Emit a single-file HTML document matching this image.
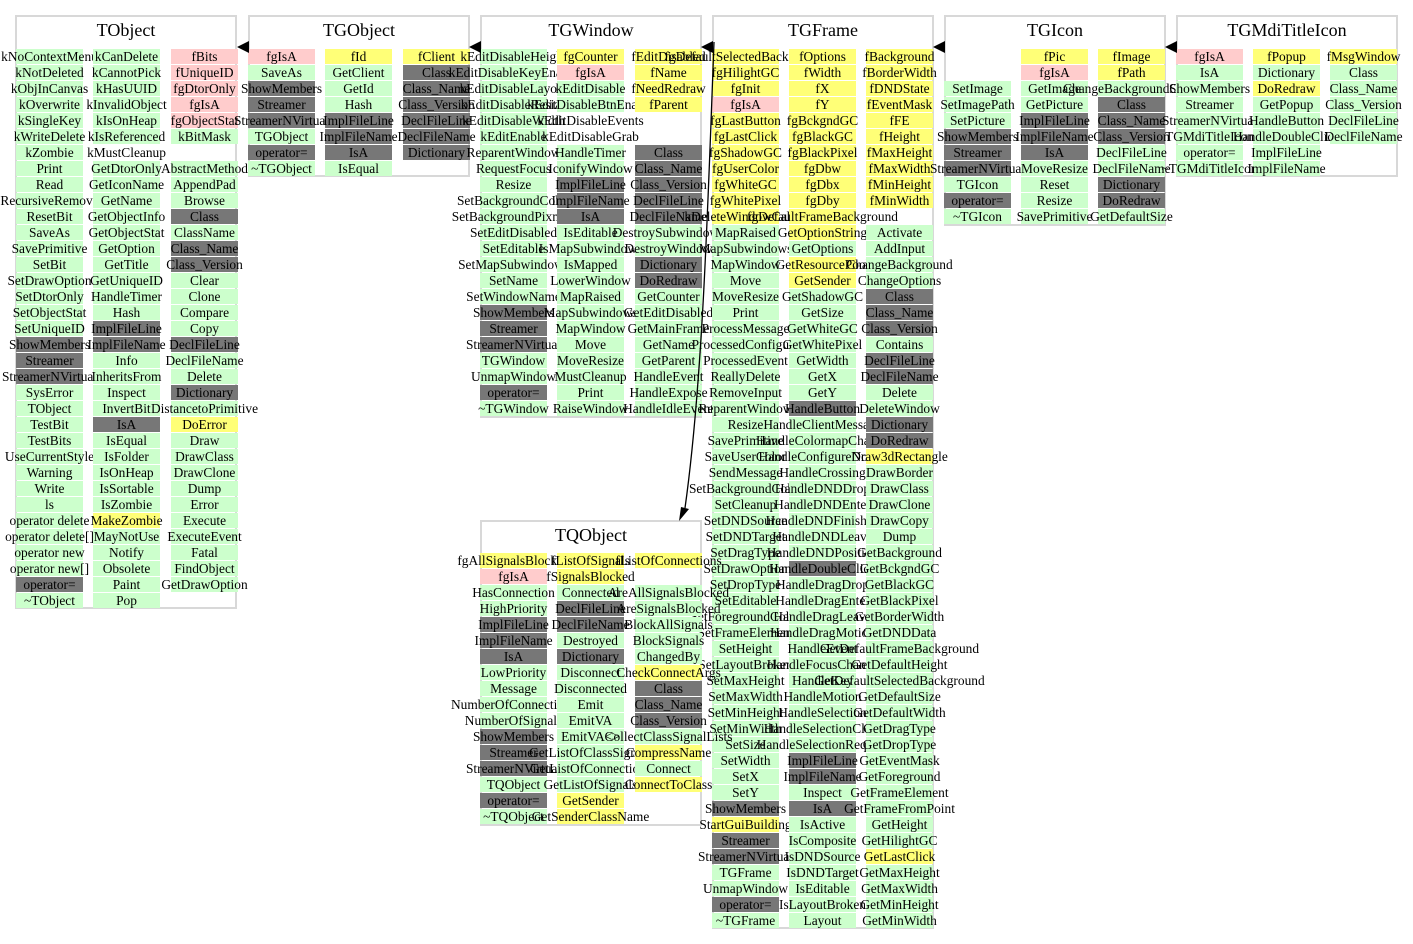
<!DOCTYPE html>
<html><head><meta charset="utf-8"><style>
html,body{margin:0;padding:0;background:#fff;}
body{width:1413px;height:944px;position:relative;overflow:hidden;font-family:"Liberation Serif",serif;color:#000;}
.box{position:absolute;border:2px solid #d8d8d8;box-sizing:border-box;width:222px;}
.t{position:absolute;width:222px;text-align:center;font-size:18px;line-height:20px;}
.col{position:absolute;width:67px;}
.col div{height:15px;margin-bottom:1px;display:flex;justify-content:center;align-items:center;font-size:13.4px;line-height:15px;white-space:nowrap;}
.g{background:#ccffcc}.p{background:#ffcccc}.y{background:#ffff77}.d{background:#777777}.e{background:transparent}
svg{position:absolute;left:0;top:0;}
</style></head><body>

<div class="box" style="left:15px;top:15px;height:594px"></div>
<div class="t" style="left:15px;top:20px">TObject</div>
<div class="box" style="left:248px;top:15px;height:162px"></div>
<div class="t" style="left:248px;top:20px">TGObject</div>
<div class="box" style="left:480px;top:15px;height:403px"></div>
<div class="t" style="left:480px;top:20px">TGWindow</div>
<div class="box" style="left:712px;top:15px;height:914px"></div>
<div class="t" style="left:712px;top:20px">TGFrame</div>
<div class="box" style="left:944px;top:15px;height:211px"></div>
<div class="t" style="left:944px;top:20px">TGIcon</div>
<div class="box" style="left:1176px;top:15px;height:162px"></div>
<div class="t" style="left:1176px;top:20px">TGMdiTitleIcon</div>
<div class="box" style="left:480px;top:520px;height:306px"></div>
<div class="t" style="left:480px;top:525px">TQObject</div>

<!-- TObject -->
<div class="col" style="left:16px;top:49px">
<div class="g">kNoContextMenu</div><div class="g">kNotDeleted</div><div class="g">kObjInCanvas</div><div class="g">kOverwrite</div><div class="g">kSingleKey</div><div class="g">kWriteDelete</div><div class="g">kZombie</div><div class="g">Print</div><div class="g">Read</div><div class="g">RecursiveRemove</div><div class="g">ResetBit</div><div class="g">SaveAs</div><div class="g">SavePrimitive</div><div class="g">SetBit</div><div class="g">SetDrawOption</div><div class="g">SetDtorOnly</div><div class="g">SetObjectStat</div><div class="g">SetUniqueID</div><div class="d">ShowMembers</div><div class="d">Streamer</div><div class="d">StreamerNVirtual</div><div class="g">SysError</div><div class="g">TObject</div><div class="g">TestBit</div><div class="g">TestBits</div><div class="g">UseCurrentStyle</div><div class="g">Warning</div><div class="g">Write</div><div class="g">ls</div><div class="g">operator delete</div><div class="g">operator delete[]</div><div class="g">operator new</div><div class="g">operator new[]</div><div class="d">operator=</div><div class="g">~TObject</div>
</div>
<div class="col" style="left:93px;top:49px">
<div class="g">kCanDelete</div><div class="g">kCannotPick</div><div class="g">kHasUUID</div><div class="g">kInvalidObject</div><div class="g">kIsOnHeap</div><div class="g">kIsReferenced</div><div class="e">kMustCleanup</div><div class="g">GetDtorOnly</div><div class="g">GetIconName</div><div class="g">GetName</div><div class="g">GetObjectInfo</div><div class="g">GetObjectStat</div><div class="g">GetOption</div><div class="g">GetTitle</div><div class="g">GetUniqueID</div><div class="g">HandleTimer</div><div class="g">Hash</div><div class="d">ImplFileLine</div><div class="d">ImplFileName</div><div class="g">Info</div><div class="g">InheritsFrom</div><div class="g">Inspect</div><div class="g">InvertBit</div><div class="d">IsA</div><div class="g">IsEqual</div><div class="g">IsFolder</div><div class="g">IsOnHeap</div><div class="g">IsSortable</div><div class="g">IsZombie</div><div class="y">MakeZombie</div><div class="g">MayNotUse</div><div class="g">Notify</div><div class="g">Obsolete</div><div class="g">Paint</div><div class="g">Pop</div>
</div>
<div class="col" style="left:171px;top:49px">
<div class="p">fBits</div><div class="p">fUniqueID</div><div class="p">fgDtorOnly</div><div class="p">fgIsA</div><div class="p">fgObjectStat</div><div class="g">kBitMask</div><div class="e"></div><div class="g">AbstractMethod</div><div class="g">AppendPad</div><div class="g">Browse</div><div class="d">Class</div><div class="g">ClassName</div><div class="d">Class_Name</div><div class="d">Class_Version</div><div class="g">Clear</div><div class="g">Clone</div><div class="g">Compare</div><div class="g">Copy</div><div class="d">DeclFileLine</div><div class="g">DeclFileName</div><div class="g">Delete</div><div class="d">Dictionary</div><div class="g">DistancetoPrimitive</div><div class="y">DoError</div><div class="g">Draw</div><div class="g">DrawClass</div><div class="g">DrawClone</div><div class="g">Dump</div><div class="g">Error</div><div class="g">Execute</div><div class="g">ExecuteEvent</div><div class="g">Fatal</div><div class="g">FindObject</div><div class="g">GetDrawOption</div>
</div>

<!-- TGObject -->
<div class="col" style="left:248px;top:49px">
<div class="p">fgIsA</div><div class="g">SaveAs</div><div class="d">ShowMembers</div><div class="d">Streamer</div><div class="d">StreamerNVirtual</div><div class="g">TGObject</div><div class="d">operator=</div><div class="g">~TGObject</div>
</div>
<div class="col" style="left:325px;top:49px">
<div class="y">fId</div><div class="g">GetClient</div><div class="g">GetId</div><div class="g">Hash</div><div class="d">ImplFileLine</div><div class="d">ImplFileName</div><div class="d">IsA</div><div class="g">IsEqual</div>
</div>
<div class="col" style="left:403px;top:49px">
<div class="y">fClient</div><div class="d">Class</div><div class="d">Class_Name</div><div class="d">Class_Version</div><div class="d">DeclFileLine</div><div class="d">DeclFileName</div><div class="d">Dictionary</div>
</div>

<!-- TGWindow -->
<div class="col" style="left:480px;top:49px">
<div class="g">kEditDisableHeight</div><div class="g">kEditDisableKeyEnable</div><div class="g">kEditDisableLayout</div><div class="g">kEditDisableResize</div><div class="g">kEditDisableWidth</div><div class="g">kEditEnable</div><div class="g">ReparentWindow</div><div class="g">RequestFocus</div><div class="g">Resize</div><div class="g">SetBackgroundColor</div><div class="g">SetBackgroundPixmap</div><div class="g">SetEditDisabled</div><div class="g">SetEditable</div><div class="g">SetMapSubwindows</div><div class="g">SetName</div><div class="g">SetWindowName</div><div class="d">ShowMembers</div><div class="d">Streamer</div><div class="d">StreamerNVirtual</div><div class="g">TGWindow</div><div class="g">UnmapWindow</div><div class="d">operator=</div><div class="g">~TGWindow</div>
</div>
<div class="col" style="left:557px;top:49px">
<div class="y">fgCounter</div><div class="p">fgIsA</div><div class="g">kEditDisable</div><div class="g">kEditDisableBtnEnable</div><div class="e">kEditDisableEvents</div><div class="e">kEditDisableGrab</div><div class="g">HandleTimer</div><div class="g">IconifyWindow</div><div class="d">ImplFileLine</div><div class="d">ImplFileName</div><div class="d">IsA</div><div class="g">IsEditable</div><div class="g">IsMapSubwindows</div><div class="g">IsMapped</div><div class="g">LowerWindow</div><div class="g">MapRaised</div><div class="g">MapSubwindows</div><div class="g">MapWindow</div><div class="g">Move</div><div class="g">MoveResize</div><div class="g">MustCleanup</div><div class="g">Print</div><div class="g">RaiseWindow</div>
</div>
<div class="col" style="left:635px;top:49px">
<div class="y">fEditDisabled</div><div class="y">fName</div><div class="y">fNeedRedraw</div><div class="y">fParent</div><div class="e"></div><div class="e"></div><div class="d">Class</div><div class="d">Class_Name</div><div class="d">Class_Version</div><div class="d">DeclFileLine</div><div class="d">DeclFileName</div><div class="g">DestroySubwindows</div><div class="g">DestroyWindow</div><div class="d">Dictionary</div><div class="d">DoRedraw</div><div class="g">GetCounter</div><div class="g">GetEditDisabled</div><div class="g">GetMainFrame</div><div class="g">GetName</div><div class="g">GetParent</div><div class="g">HandleEvent</div><div class="g">HandleExpose</div><div class="g">HandleIdleEvent</div>
</div>

<!-- TGFrame -->
<div class="col" style="left:712px;top:49px">
<div class="y">fgDefaultSelectedBackground</div><div class="y">fgHilightGC</div><div class="y">fgInit</div><div class="p">fgIsA</div><div class="y">fgLastButton</div><div class="y">fgLastClick</div><div class="y">fgShadowGC</div><div class="y">fgUserColor</div><div class="y">fgWhiteGC</div><div class="y">fgWhitePixel</div><div class="y">kDeleteWindowCalled</div><div class="g">MapRaised</div><div class="g">MapSubwindows</div><div class="g">MapWindow</div><div class="g">Move</div><div class="g">MoveResize</div><div class="g">Print</div><div class="g">ProcessMessage</div><div class="g">ProcessedConfigure</div><div class="g">ProcessedEvent</div><div class="g">ReallyDelete</div><div class="g">RemoveInput</div><div class="g">ReparentWindow</div><div class="g">Resize</div><div class="g">SavePrimitive</div><div class="g">SaveUserColor</div><div class="g">SendMessage</div><div class="g">SetBackgroundColor</div><div class="g">SetCleanup</div><div class="g">SetDNDSource</div><div class="g">SetDNDTarget</div><div class="g">SetDragType</div><div class="g">SetDrawOption</div><div class="g">SetDropType</div><div class="g">SetEditable</div><div class="g">SetForegroundColor</div><div class="g">SetFrameElement</div><div class="g">SetHeight</div><div class="g">SetLayoutBroken</div><div class="g">SetMaxHeight</div><div class="g">SetMaxWidth</div><div class="g">SetMinHeight</div><div class="g">SetMinWidth</div><div class="g">SetSize</div><div class="g">SetWidth</div><div class="g">SetX</div><div class="g">SetY</div><div class="d">ShowMembers</div><div class="y">StartGuiBuilding</div><div class="d">Streamer</div><div class="d">StreamerNVirtual</div><div class="g">TGFrame</div><div class="g">UnmapWindow</div><div class="d">operator=</div><div class="g">~TGFrame</div>
</div>
<div class="col" style="left:789px;top:49px">
<div class="y">fOptions</div><div class="y">fWidth</div><div class="y">fX</div><div class="y">fY</div><div class="y">fgBckgndGC</div><div class="y">fgBlackGC</div><div class="y">fgBlackPixel</div><div class="y">fgDbw</div><div class="y">fgDbx</div><div class="y">fgDby</div><div class="y">fgDefaultFrameBackground</div><div class="y">GetOptionString</div><div class="g">GetOptions</div><div class="y">GetResourcePool</div><div class="y">GetSender</div><div class="g">GetShadowGC</div><div class="g">GetSize</div><div class="g">GetWhiteGC</div><div class="g">GetWhitePixel</div><div class="g">GetWidth</div><div class="g">GetX</div><div class="g">GetY</div><div class="d">HandleButton</div><div class="g">HandleClientMessage</div><div class="g">HandleColormapChange</div><div class="g">HandleConfigureNotify</div><div class="g">HandleCrossing</div><div class="g">HandleDNDDrop</div><div class="g">HandleDNDEnter</div><div class="g">HandleDNDFinished</div><div class="g">HandleDNDLeave</div><div class="g">HandleDNDPosition</div><div class="d">HandleDoubleClick</div><div class="g">HandleDragDrop</div><div class="g">HandleDragEnter</div><div class="g">HandleDragLeave</div><div class="g">HandleDragMotion</div><div class="g">HandleEvent</div><div class="g">HandleFocusChange</div><div class="g">HandleKey</div><div class="g">HandleMotion</div><div class="g">HandleSelection</div><div class="g">HandleSelectionClear</div><div class="g">HandleSelectionRequest</div><div class="d">ImplFileLine</div><div class="d">ImplFileName</div><div class="g">Inspect</div><div class="d">IsA</div><div class="g">IsActive</div><div class="g">IsComposite</div><div class="g">IsDNDSource</div><div class="g">IsDNDTarget</div><div class="g">IsEditable</div><div class="g">IsLayoutBroken</div><div class="g">Layout</div>
</div>
<div class="col" style="left:866px;top:49px">
<div class="y">fBackground</div><div class="y">fBorderWidth</div><div class="y">fDNDState</div><div class="y">fEventMask</div><div class="y">fFE</div><div class="y">fHeight</div><div class="y">fMaxHeight</div><div class="y">fMaxWidth</div><div class="y">fMinHeight</div><div class="y">fMinWidth</div><div class="e"></div><div class="g">Activate</div><div class="g">AddInput</div><div class="g">ChangeBackground</div><div class="g">ChangeOptions</div><div class="d">Class</div><div class="d">Class_Name</div><div class="d">Class_Version</div><div class="g">Contains</div><div class="d">DeclFileLine</div><div class="d">DeclFileName</div><div class="g">Delete</div><div class="g">DeleteWindow</div><div class="d">Dictionary</div><div class="d">DoRedraw</div><div class="y">Draw3dRectangle</div><div class="g">DrawBorder</div><div class="g">DrawClass</div><div class="g">DrawClone</div><div class="g">DrawCopy</div><div class="g">Dump</div><div class="g">GetBackground</div><div class="g">GetBckgndGC</div><div class="g">GetBlackGC</div><div class="g">GetBlackPixel</div><div class="g">GetBorderWidth</div><div class="g">GetDNDData</div><div class="g">GetDefaultFrameBackground</div><div class="g">GetDefaultHeight</div><div class="g">GetDefaultSelectedBackground</div><div class="g">GetDefaultSize</div><div class="g">GetDefaultWidth</div><div class="g">GetDragType</div><div class="g">GetDropType</div><div class="g">GetEventMask</div><div class="g">GetForeground</div><div class="g">GetFrameElement</div><div class="g">GetFrameFromPoint</div><div class="g">GetHeight</div><div class="g">GetHilightGC</div><div class="y">GetLastClick</div><div class="g">GetMaxHeight</div><div class="g">GetMaxWidth</div><div class="g">GetMinHeight</div><div class="g">GetMinWidth</div>
</div>

<!-- TGIcon -->
<div class="col" style="left:944px;top:81px">
<div class="g">SetImage</div><div class="g">SetImagePath</div><div class="g">SetPicture</div><div class="d">ShowMembers</div><div class="d">Streamer</div><div class="d">StreamerNVirtual</div><div class="g">TGIcon</div><div class="d">operator=</div><div class="g">~TGIcon</div>
</div>
<div class="col" style="left:1021px;top:49px">
<div class="y">fPic</div><div class="p">fgIsA</div><div class="g">GetImage</div><div class="g">GetPicture</div><div class="d">ImplFileLine</div><div class="d">ImplFileName</div><div class="d">IsA</div><div class="g">MoveResize</div><div class="g">Reset</div><div class="g">Resize</div><div class="g">SavePrimitive</div>
</div>
<div class="col" style="left:1098px;top:49px">
<div class="y">fImage</div><div class="y">fPath</div><div class="g">ChangeBackgroundColor</div><div class="d">Class</div><div class="d">Class_Name</div><div class="d">Class_Version</div><div class="g">DeclFileLine</div><div class="g">DeclFileName</div><div class="d">Dictionary</div><div class="d">DoRedraw</div><div class="g">GetDefaultSize</div>
</div>

<!-- TGMdiTitleIcon -->
<div class="col" style="left:1176px;top:49px">
<div class="p">fgIsA</div><div class="g">IsA</div><div class="g">ShowMembers</div><div class="g">Streamer</div><div class="g">StreamerNVirtual</div><div class="g">TGMdiTitleIcon</div><div class="g">operator=</div><div class="g">~TGMdiTitleIcon</div>
</div>
<div class="col" style="left:1253px;top:49px">
<div class="y">fPopup</div><div class="g">Dictionary</div><div class="y">DoRedraw</div><div class="g">GetPopup</div><div class="g">HandleButton</div><div class="g">HandleDoubleClick</div><div class="g">ImplFileLine</div><div class="g">ImplFileName</div>
</div>
<div class="col" style="left:1330px;top:49px">
<div class="y">fMsgWindow</div><div class="g">Class</div><div class="g">Class_Name</div><div class="g">Class_Version</div><div class="g">DeclFileLine</div><div class="g">DeclFileName</div>
</div>

<!-- TQObject -->
<div class="col" style="left:480px;top:553px">
<div class="y">fgAllSignalsBlocked</div><div class="p">fgIsA</div><div class="g">HasConnection</div><div class="g">HighPriority</div><div class="d">ImplFileLine</div><div class="d">ImplFileName</div><div class="d">IsA</div><div class="g">LowPriority</div><div class="g">Message</div><div class="g">NumberOfConnections</div><div class="g">NumberOfSignals</div><div class="d">ShowMembers</div><div class="d">Streamer</div><div class="d">StreamerNVirtual</div><div class="g">TQObject</div><div class="d">operator=</div><div class="g">~TQObject</div>
</div>
<div class="col" style="left:557px;top:553px">
<div class="y">fListOfSignals</div><div class="y">fSignalsBlocked</div><div class="g">Connected</div><div class="d">DeclFileLine</div><div class="d">DeclFileName</div><div class="g">Destroyed</div><div class="d">Dictionary</div><div class="g">Disconnect</div><div class="g">Disconnected</div><div class="g">Emit</div><div class="g">EmitVA</div><div class="g">EmitVA&lt;&gt;</div><div class="g">GetListOfClassSignals</div><div class="g">GetListOfConnections</div><div class="g">GetListOfSignals</div><div class="y">GetSender</div><div class="y">GetSenderClassName</div>
</div>
<div class="col" style="left:635px;top:553px">
<div class="y">fListOfConnections</div><div class="e"></div><div class="g">AreAllSignalsBlocked</div><div class="g">AreSignalsBlocked</div><div class="g">BlockAllSignals</div><div class="g">BlockSignals</div><div class="g">ChangedBy</div><div class="y">CheckConnectArgs</div><div class="d">Class</div><div class="d">Class_Name</div><div class="d">Class_Version</div><div class="g">CollectClassSignalLists</div><div class="y">CompressName</div><div class="g">Connect</div><div class="y">ConnectToClass</div>
</div>

<svg width="1413" height="944">
<polygon points="237,47 249,41 249,53" fill="#000"/>
<polygon points="469,47 481,41 481,53" fill="#000"/>
<polygon points="701,47 713,41 713,53" fill="#000"/>
<polygon points="933,47 945,41 945,53" fill="#000"/>
<polygon points="1165,47 1177,41 1177,53" fill="#000"/>
<path d="M714,42 C708,200 703,380 685,508" stroke="#000" stroke-width="1.3" fill="none"/>
<polygon points="679,521 681,507 689,509" fill="#000"/>
</svg>
</body></html>
